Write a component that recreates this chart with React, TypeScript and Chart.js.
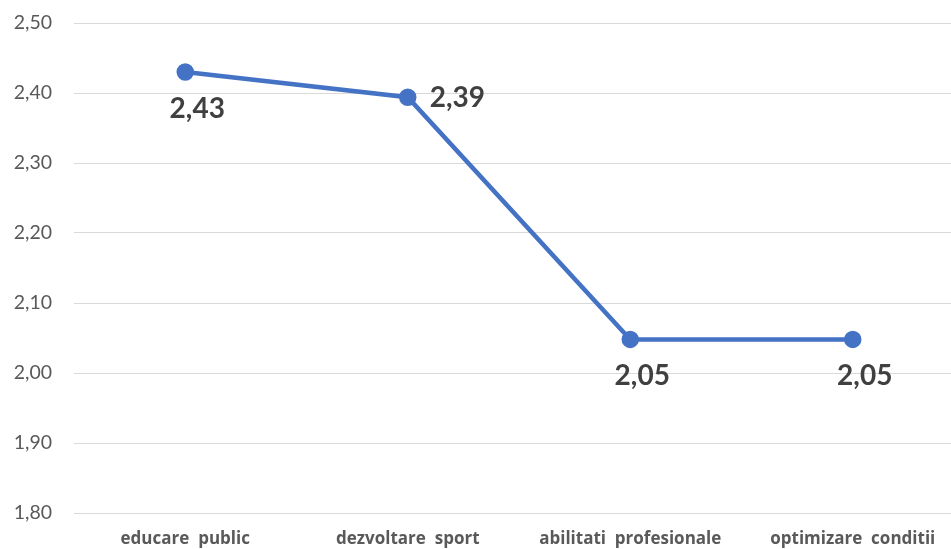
import React, { useEffect, useRef } from "react";
import { Chart, registerables } from "chart.js";

Chart.register(...registerables);

const categories = ["educare  public", "dezvoltare  sport", "abilitati  profesionale", "optimizare  conditii"];
const values = [2.43, 2.394, 2.048, 2.048];
const labelPositions = ["below", "right", "below", "below"];
const yMin = 1.8;
const yMax = 2.5;
const yStep = 0.1;

const FONT = "Lato, 'Open Sans', sans-serif";
const XFONT = "'Open Sans', Lato, sans-serif";

const dataLabelPlugin = {
  id: "dataLabels",
  afterDatasetsDraw(chart: any) {
    const ctx = chart.ctx;
    const meta = chart.getDatasetMeta(0);
    ctx.save();
    ctx.font = `bold 28px ${FONT}`;
    ctx.fillStyle = "#404040";
    meta.data.forEach((pt: any, i: number) => {
      const txt = values[i].toFixed(2).replace(".", ",");
      const pos = labelPositions[i];
      if (pos === "right") {
        ctx.textAlign = "left";
        ctx.textBaseline = "middle";
        ctx.fillText(txt, pt.x + 22, pt.y + 1);
      } else {
        ctx.textAlign = "center";
        ctx.textBaseline = "middle";
        ctx.fillText(txt, pt.x + 12, pt.y + 37);
      }
    });
    ctx.restore();
  },
};

export default function App() {
  const ref = useRef<HTMLCanvasElement | null>(null);
  useEffect(() => {
    if (!ref.current) return;
    const chart = new Chart(ref.current, {
      type: "line",
      data: {
        labels: categories,
        datasets: [
          {
            data: values,
            borderColor: "#4472C4",
            backgroundColor: "#4472C4",
            borderWidth: 4.5,
            pointRadius: 6.5,
            pointHoverRadius: 6.5,
            pointBackgroundColor: "#4472C4",
            pointBorderColor: "#4472C4",
            tension: 0,
          },
        ],
      },
      options: {
        responsive: false,
        animation: false,
        layout: { padding: { top: 23, right: 0, left: 0, bottom: 0 } },
        plugins: { legend: { display: false }, tooltip: { enabled: false } },
        scales: {
          x: {
            offset: true,
            grid: { display: false, drawTicks: false },
            border: { display: false },
            ticks: {
              color: "#595959",
              font: { family: XFONT, size: 17, weight: "bold" },
              padding: 16,
              maxRotation: 0,
              autoSkip: false,
            },
            afterFit(scale: any) {
              scale.height = 36;
              scale.paddingLeft = 0;
              scale.paddingRight = 0;
            },
          },
          y: {
            min: yMin,
            max: yMax,
            grid: { color: "#d9d9d9", lineWidth: 1, drawTicks: false },
            border: { display: false },
            ticks: {
              stepSize: yStep,
              color: "#595959",
              font: { family: FONT, size: 19.5 },
              padding: 22,
              callback: (v: any) => Number(v).toFixed(2).replace(".", ","),
            },
            afterFit(scale: any) {
              scale.width = 74;
              scale.paddingTop = 0;
              scale.paddingBottom = 0;
            },
          },
        },
      },
      plugins: [dataLabelPlugin],
    } as any);
    return () => chart.destroy();
  }, []);
  return (
    <div style={{ position: "fixed", left: 0, top: 0, width: 951, height: 549, overflow: "hidden", background: "#fff" }}>
      <canvas ref={ref} width={975} height={549} style={{ display: "block" }} />
    </div>
  );
}
